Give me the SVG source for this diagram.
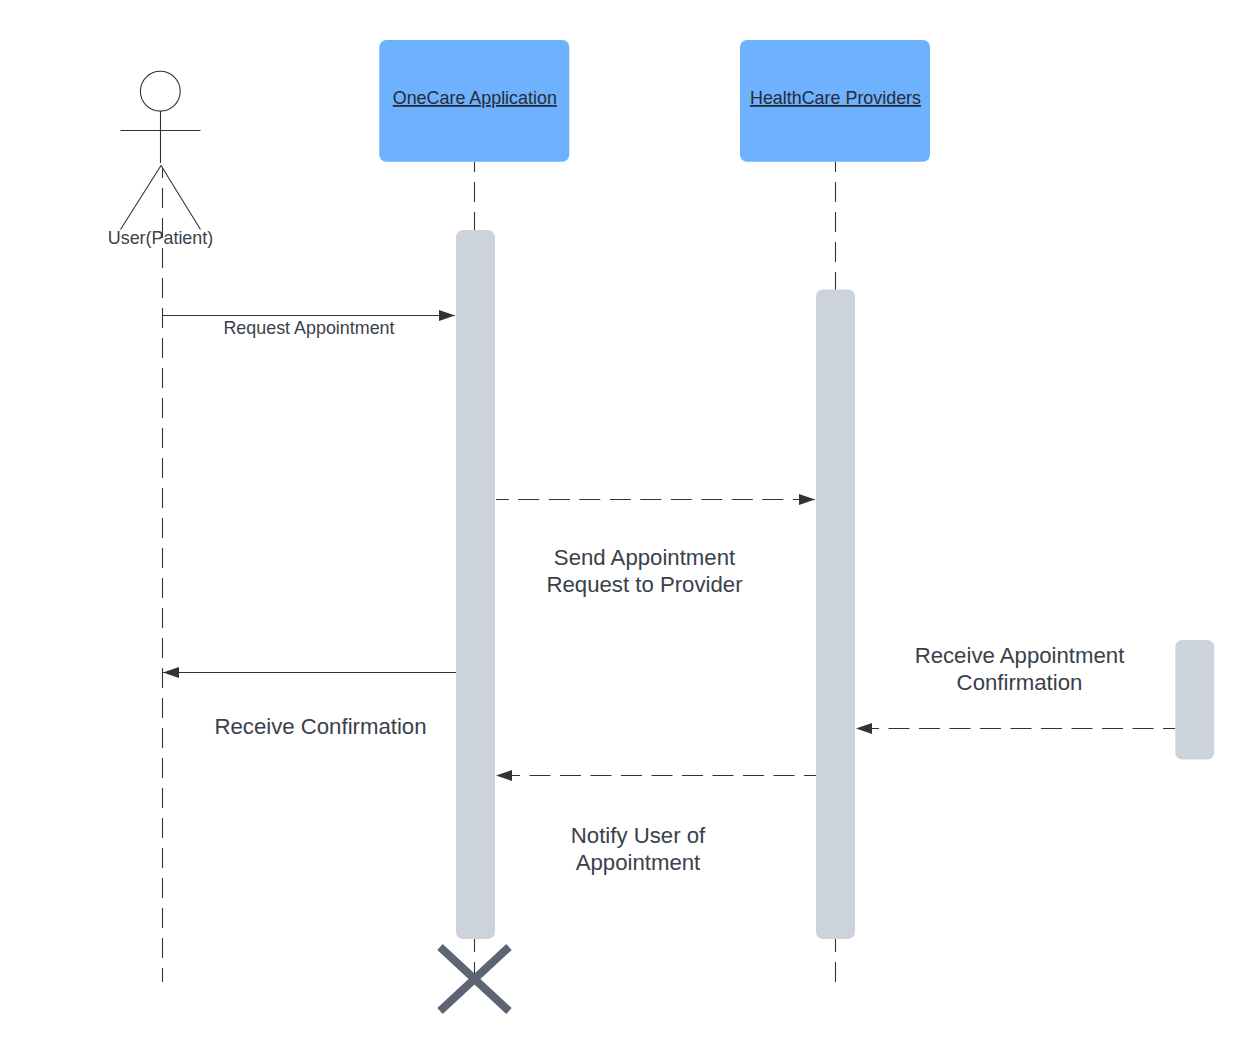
<svg xmlns="http://www.w3.org/2000/svg" width="1255" height="1059" viewBox="0 0 1255 1059">
<style>
text{font-family:"Liberation Sans",Arial,sans-serif;fill:#3a414a;text-anchor:middle}
.s{font-size:17.9px}.m{font-size:22.2px}
.u{fill:#282c33;text-decoration:underline}
.head{fill:#6db1ff}.act{fill:#cdd3db}
.l{fill:none;stroke:#333;stroke-width:1.1}
.v{stroke-dasharray:20 10;stroke-dashoffset:10}
.d{stroke-dasharray:21 9.5;stroke-dashoffset:9}
.a{marker-end:url(#ah)}
</style>
<defs><marker id="ah" markerUnits="userSpaceOnUse" markerWidth="16" markerHeight="11" refX="16" refY="5.500" orient="auto"><path d="M0 0L16 5.500L0 11Z" fill="#333"/></marker></defs>
<rect width="1255" height="1059" fill="#fff"/>
<g id="lifelines">
<path class="l v" d="M162.500 168V982"/>
<path class="l v" d="M474.500 162V974"/>
<path class="l v" d="M835.500 162V982"/>
</g>
<g id="actor-user">
<circle class="l" cx="160.300" cy="91.200" r="19.900" fill="#fff"/>
<path class="l" d="M160.500 111V163M120.500 130.500H200.500M120.500 229.500L161 165.500L200.500 229.500"/>
<text class="s" x="160.500" y="244">User(Patient)</text>
</g>
<g id="node-onecare"><rect class="head" x="379.300" y="40" width="190" height="121.700" rx="7"/><text class="s u" x="474.800" y="104">OneCare Application</text></g>
<g id="node-providers"><rect class="head" x="740" y="40" width="190" height="121.700" rx="7"/><text class="s u" x="835.500" y="104">HealthCare Providers</text></g>
<g id="activation-onecare"><rect class="act" x="456" y="230" width="39" height="709" rx="7"/></g>
<g id="activation-providers"><rect class="act" x="816" y="289.500" width="39" height="649.500" rx="7"/></g>
<g id="activation-external"><rect class="act" x="1175.300" y="640" width="39" height="119.500" rx="7"/></g>
<g id="connectors">
<path class="l a" d="M162.500 315.500H455"/>
<path class="l d" style="stroke-dashoffset:8.200" d="M496 499.500H800"/>
<path class="l a" d="M800 499.500H815"/>
<path class="l a" d="M456 672.500H163"/>
<path class="l d a" d="M1175 728.500H856"/>
<path class="l d a" d="M816 775.500H496"/>
</g>
<g id="labels">
<text class="s" x="309" y="333.500">Request Appointment</text>
<text class="m" x="644.500" y="565">Send Appointment</text>
<text class="m" x="644.500" y="592">Request to Provider</text>
<text class="m" x="1019.500" y="663">Receive Appointment</text>
<text class="m" x="1019.500" y="690">Confirmation</text>
<text class="m" x="320.500" y="734">Receive Confirmation</text>
<text class="m" x="638" y="843">Notify User of</text>
<text class="m" x="638" y="870">Appointment</text>
</g>
<g id="destroy-marker"><path d="M440 947L509 1011M509 947L440 1011" stroke="#5d6573" stroke-width="8" fill="none"/></g>
</svg>
